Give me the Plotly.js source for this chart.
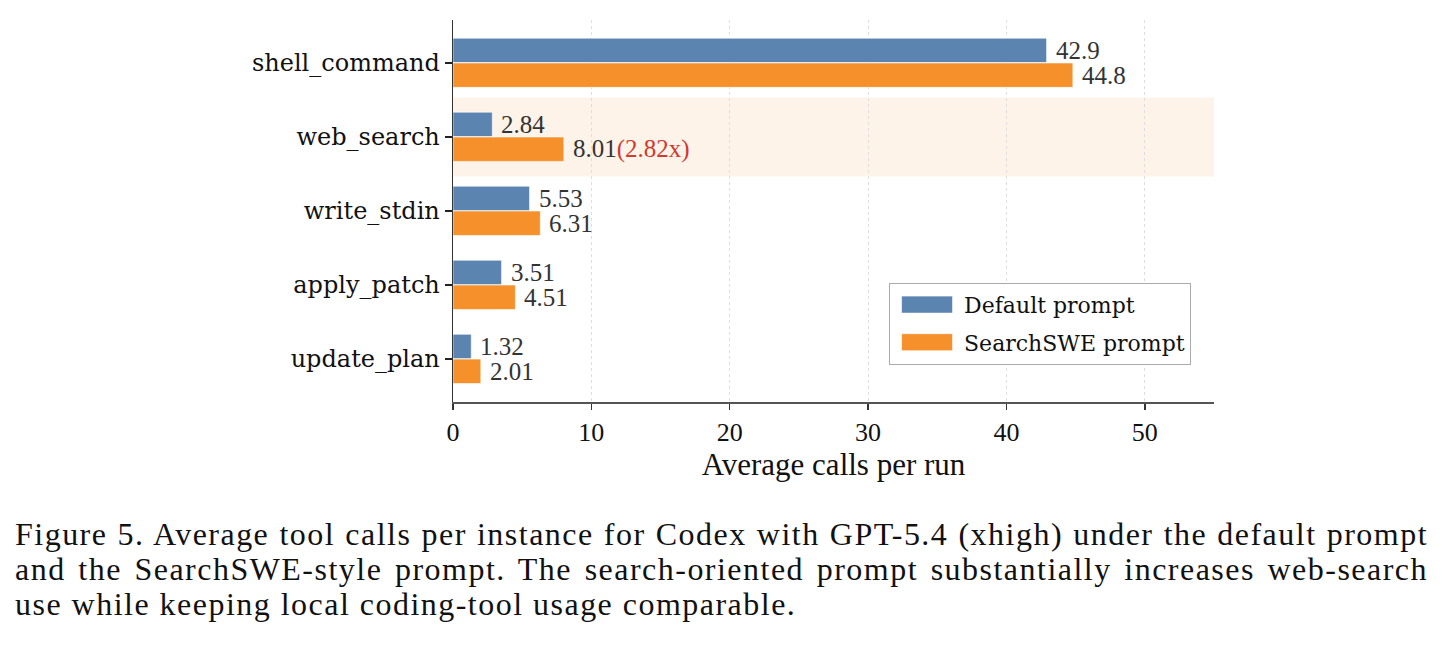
<!DOCTYPE html>
<html>
<head>
<meta charset="utf-8">
<script src="https://cdn.plot.ly/plotly-3.0.1.min.js"></script>
<style>
  html, body { margin: 0; padding: 0; background: #fff; width: 1442px; height: 645px; overflow: hidden; }
  #chart { position: absolute; left: 0; top: 0; width: 1442px; height: 645px; }
  #caption { position: absolute; left: 15px; top: 517px; width: 1413px;
             line-height: 35px; color: #111; }
  #caption .j { text-align: justify; text-align-last: justify; white-space: nowrap; }
  #caption .l { white-space: nowrap; }
</style>
</head>
<body>
<div id="chart"></div>
<div id="caption">
  <div class="j">Figure 5. Average tool calls per instance for Codex with GPT-5.4 (xhigh) under the default prompt</div>
  <div class="j">and the SearchSWE-style prompt. The search-oriented prompt substantially increases web-search</div>
  <div class="l">use while keeping local coding-tool usage comparable.</div>
</div>
<script>
const categories = ["shell_command", "web_search", "write_stdin", "apply_patch", "update_plan"];
const defaultValues = [42.9, 2.84, 5.53, 3.51, 1.32];
const searchValues = [44.8, 8.01, 6.31, 4.51, 2.01];
const seriesNames = ["Default prompt", "SearchSWE prompt"];
const xTicks = [0, 10, 20, 30, 40, 50];
const highlightCategory = "web_search";

// --- font availability detection ---
const cv = document.createElement("canvas").getContext("2d");
function hasFont(name) {
  const s = "abcdefghijklmnopqrstuvwxyzABCDEFGHIJ0123456789";
  return ["monospace", "sans-serif"].every(fb => {
    cv.font = "40px " + fb; const w0 = cv.measureText(s).width;
    cv.font = '40px "' + name + '", ' + fb; const w1 = cv.measureText(s).width;
    return Math.abs(w0 - w1) > 0.5;
  });
}
function pick(list) { for (const f of list) if (hasFont(f)) return f; return "DejaVu Serif"; }
const timesLike = pick(["Liberation Serif", "Tinos", "Times New Roman", "Nimbus Roman", "Noto Serif", "DejaVu Serif"]);
const serif = "DejaVu Serif, serif";
const narrowSerif = timesLike + ", serif";

// caption: letter spacing chosen so the justified lines need only small extra word gaps
(function () {
  const cap = document.getElementById("caption");
  const lines = Array.from(cap.querySelectorAll(".j")).map(d => d.textContent);
  const size = 32;
  cv.font = size + 'px "' + timesLike + '"';
  let ls = 3;
  lines.forEach(t => {
    const w = cv.measureText(t).width;
    ls = Math.min(ls, (1405 - w) / t.length);
  });
  ls = Math.max(0, ls);
  cap.style.fontFamily = '"' + timesLike + '", serif';
  cap.style.fontSize = size + "px";
  cap.style.letterSpacing = ls.toFixed(2) + "px";
})();

const pos = categories.map((c, i) => i);
const blue = "#5b84b1";
const orange = "#f5902a";

const traces = [
  {
    type: "bar", orientation: "h", name: seriesNames[0], legendgroup: "a",
    x: defaultValues, y: pos, width: 0.33, offset: -0.335,
    marker: { color: blue, line: { color: "rgba(255,255,255,0.6)", width: 1 } },
    hoverinfo: "x"
  },
  {
    type: "bar", orientation: "h", name: seriesNames[1], legendgroup: "b",
    x: searchValues, y: pos, width: 0.33, offset: 0.0,
    marker: { color: orange, line: { color: "rgba(255,255,255,0.6)", width: 1 } },
    hoverinfo: "x"
  }
];

const annotations = [];
const hi = categories.indexOf(highlightCategory);
categories.forEach((c, i) => {
  annotations.push({
    x: defaultValues[i], y: i - 0.17, xref: "x", yref: "y",
    text: defaultValues[i].toPrecision(3), showarrow: false,
    xanchor: "left", yanchor: "middle", xshift: 7,
    font: { family: narrowSerif, size: 25, color: "#333" }
  });
  let t = searchValues[i].toPrecision(3);
  if (i === hi) {
    t += '<span style="color:#d03a2f">(' + (searchValues[i] / defaultValues[i]).toFixed(2) + 'x)</span>';
  }
  annotations.push({
    x: searchValues[i], y: i + 0.165, xref: "x", yref: "y",
    text: t, showarrow: false,
    xanchor: "left", yanchor: "middle", xshift: 7,
    font: { family: narrowSerif, size: 25, color: "#333" }
  });
});

const layout = {
  width: 1442, height: 645,
  margin: { l: 453, r: 228, t: 20, b: 243, pad: 0 },
  paper_bgcolor: "#fff", plot_bgcolor: "#fff",
  barmode: "overlay",
  showlegend: true,
  legend: {
    x: 0.573, y: 0.312, xanchor: "left", yanchor: "top",
    bgcolor: "#fff", bordercolor: "#aaa", borderwidth: 1,
    font: { family: serif, size: 22, color: "#111" },
    tracegroupgap: 6, itemwidth: 64
  },
  xaxis: {
    range: [0, 55], tickvals: xTicks, ticktext: xTicks.map(String),
    showgrid: true, gridcolor: "#dedede", gridwidth: 1, griddash: "3px,3px",
    zeroline: false, showline: true, linecolor: "#555", linewidth: 1.6,
    ticks: "outside", ticklen: 6, tickcolor: "#333", tickwidth: 1.4,
    tickfont: { family: narrowSerif, size: 26, color: "#111" },
    title: { text: "Average calls per run", font: { family: narrowSerif, size: 31, color: "#111" }, standoff: 6 },
    fixedrange: true
  },
  yaxis: {
    range: [4.58, -0.58], tickvals: pos, ticktext: categories,
    showgrid: false, zeroline: false, showline: true, linecolor: "#333", linewidth: 1.4,
    ticks: "outside", ticklen: 7, tickcolor: "#222", tickwidth: 1.4,
    tickfont: { family: serif, size: 24, color: "#111" },
    fixedrange: true
  },
  shapes: [{
    type: "rect", layer: "below", xref: "paper", yref: "y",
    x0: 0, x1: 1, y0: hi - 0.533, y1: hi + 0.533,
    fillcolor: "rgba(245,144,42,0.11)", line: { width: 0 }
  }],
  annotations: annotations
};

Plotly.newPlot("chart", traces, layout, { displayModeBar: false, staticPlot: true }).then(gd => {
  // widen the legend swatches to match the reference's wide patches
  gd.querySelectorAll(".legend .traces .legendpoints path").forEach(p => {
    p.setAttribute("d", "M25.5,8.5H-25.5V-8.5H25.5Z");
  });
});
</script>
</body>
</html>
